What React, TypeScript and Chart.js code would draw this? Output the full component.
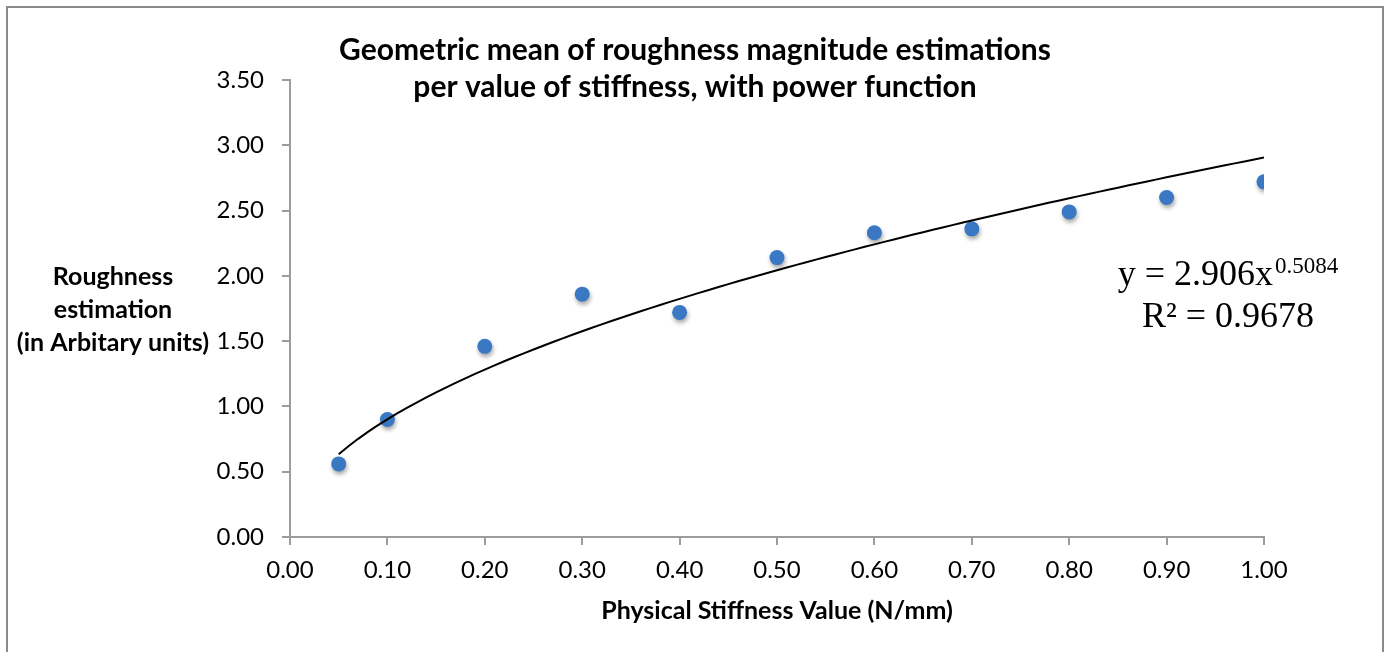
import React, { useEffect, useRef } from "react";
import { Chart, registerables } from "chart.js";

Chart.register(...registerables);

// ---- data ----
const stiffness = [0.05, 0.1, 0.2, 0.3, 0.4, 0.5, 0.6, 0.7, 0.8, 0.9, 1.0];
const roughness = [0.56, 0.9, 1.46, 1.86, 1.72, 2.14, 2.33, 2.36, 2.49, 2.6, 2.72];

// power trendline as printed on the chart
const powerCoef = 2.906;
const powerExp = 0.5084;
const powerCoefText = "2.906";
const powerExpText = "0.5084";
const rSquaredText = "0.9678";
const trendStart = 0.05;
const trendEnd = 1.0;
const trendStep = 0.01;

const titleLines = [
  "Geometric mean of roughness magnitude estimations",
  "per value of stiffness, with power function",
];
const yTitleLines = ["Roughness", "estimation", "(in Arbitary units)"];
const xTitle = "Physical Stiffness Value (N/mm)";

const xMin = 0;
const xMax = 1;
const xStep = 0.1;
const yMin = 0;
const yMax = 3.5;
const yStep = 0.5;

const W = 1385;
const H = 652;
const SANS = "Lato, 'Open Sans', sans-serif";
const SERIF = "'Liberation Serif', 'Times New Roman', serif";
const AXIS_COLOR = "#9c9c9c";
const MARKER_COLOR = "#3a78c4";

const trendPoints: { x: number; y: number }[] = [];
for (let i = 0; ; i++) {
  const x = +(trendStart + i * trendStep).toFixed(4);
  if (x > trendEnd + 1e-9) break;
  trendPoints.push({ x, y: powerCoef * Math.pow(x, powerExp) });
}

const decorPlugin = {
  id: "decor",
  beforeDatasetDraw(chart: any, args: any) {
    if (args.index === 1) {
      const ctx = chart.ctx;
      ctx.save();
      ctx.shadowColor = "rgba(0,0,0,0.35)";
      ctx.shadowBlur = 4;
      ctx.shadowOffsetX = 1;
      ctx.shadowOffsetY = 3;
    }
  },
  afterDatasetDraw(chart: any, args: any) {
    if (args.index === 1) chart.ctx.restore();
  },
  afterDraw(chart: any) {
    const ctx: CanvasRenderingContext2D = chart.ctx;
    ctx.save();
    // outer border
    ctx.strokeStyle = "#8a8a8a";
    ctx.lineWidth = 2;
    ctx.strokeRect(7, 7, 1376, 700);

    // title
    ctx.fillStyle = "#000";
    ctx.textAlign = "center";
    ctx.textBaseline = "middle";
    ctx.font = `bold 30px ${SANS}`;
    ctx.fillText(titleLines[0], 695, 50);
    ctx.fillText(titleLines[1], 695, 87);

    // y axis title (horizontal)
    ctx.font = `bold 25px ${SANS}`;
    yTitleLines.forEach((t, i) => ctx.fillText(t, 113, 277 + i * 33));

    // equation
    ctx.textAlign = "left";
    ctx.textBaseline = "alphabetic";
    const main = `y = ${powerCoefText}x`;
    ctx.font = `36px ${SERIF}`;
    const wMain = ctx.measureText(main).width;
    ctx.font = `23px ${SERIF}`;
    const wSup = ctx.measureText(powerExpText).width;
    const cx = 1228;
    const x0 = cx - (wMain + 2 + wSup) / 2;
    ctx.font = `36px ${SERIF}`;
    ctx.fillText(main, x0, 285);
    ctx.font = `23px ${SERIF}`;
    ctx.fillText(powerExpText, x0 + wMain + 2, 273);
    ctx.font = `36px ${SERIF}`;
    const r2 = `R² = ${rSquaredText}`;
    const wR = ctx.measureText(r2).width;
    ctx.fillText(r2, cx - wR / 2, 327);
    ctx.restore();
  },
};

export default function App() {
  const ref = useRef<HTMLCanvasElement | null>(null);
  useEffect(() => {
    if (!ref.current) return;
    const chart = new Chart(ref.current, {
      type: "scatter",
      data: {
        datasets: [
          {
            type: "line",
            label: "Power trend",
            data: trendPoints,
            borderColor: "#000",
            borderWidth: 2,
            pointRadius: 0,
            fill: false,
            tension: 0,
            order: 0,
          } as any,
          {
            label: "Roughness",
            data: stiffness.map((x, i) => ({ x, y: roughness[i] })),
            backgroundColor: MARKER_COLOR,
            borderColor: MARKER_COLOR,
            pointRadius: 7.5,
            pointBorderWidth: 0,
            order: 1,
          },
        ],
      },
      options: {
        animation: false,
        responsive: false,
        events: [],
        layout: { padding: { left: 0, top: 80, right: 121, bottom: 15 } },
        plugins: {
          legend: { display: false },
          tooltip: { enabled: false },
          title: { display: false },
        },
        scales: {
          x: {
            type: "linear",
            min: xMin,
            max: xMax,
            afterFit: (s: any) => {
              s.height = 100;
            },
            ticks: {
              stepSize: xStep,
              padding: 11,
              color: "#000",
              font: { family: SANS, size: 24 },
              callback: (v: any) => Number(v).toFixed(2),
              maxRotation: 0,
            },
            grid: {
              drawOnChartArea: false,
              drawTicks: true,
              tickLength: 8,
              color: AXIS_COLOR,
              lineWidth: 2,
            },
            border: { display: true, color: AXIS_COLOR, width: 2 },
            title: {
              display: true,
              text: xTitle,
              color: "#000",
              font: { family: SANS, size: 25, weight: "bold" },
              padding: { top: 0, bottom: 11 },
            },
          },
          y: {
            type: "linear",
            min: yMin,
            max: yMax,
            afterFit: (s: any) => {
              s.width = 290;
            },
            ticks: {
              stepSize: yStep,
              padding: 18,
              color: "#000",
              font: { family: SANS, size: 24 },
              callback: (v: any) => Number(v).toFixed(2),
            },
            grid: {
              drawOnChartArea: false,
              drawTicks: true,
              tickLength: 8,
              color: AXIS_COLOR,
              lineWidth: 2,
            },
            border: { display: true, color: AXIS_COLOR, width: 2 },
          },
        },
      },
      plugins: [decorPlugin],
    });
    return () => chart.destroy();
  }, []);
  return (
    <div style={{ position: "absolute", left: 0, top: 0, width: W, height: H, background: "#fff" }}>
      <canvas ref={ref} width={W} height={H} style={{ display: "block" }} />
    </div>
  );
}
